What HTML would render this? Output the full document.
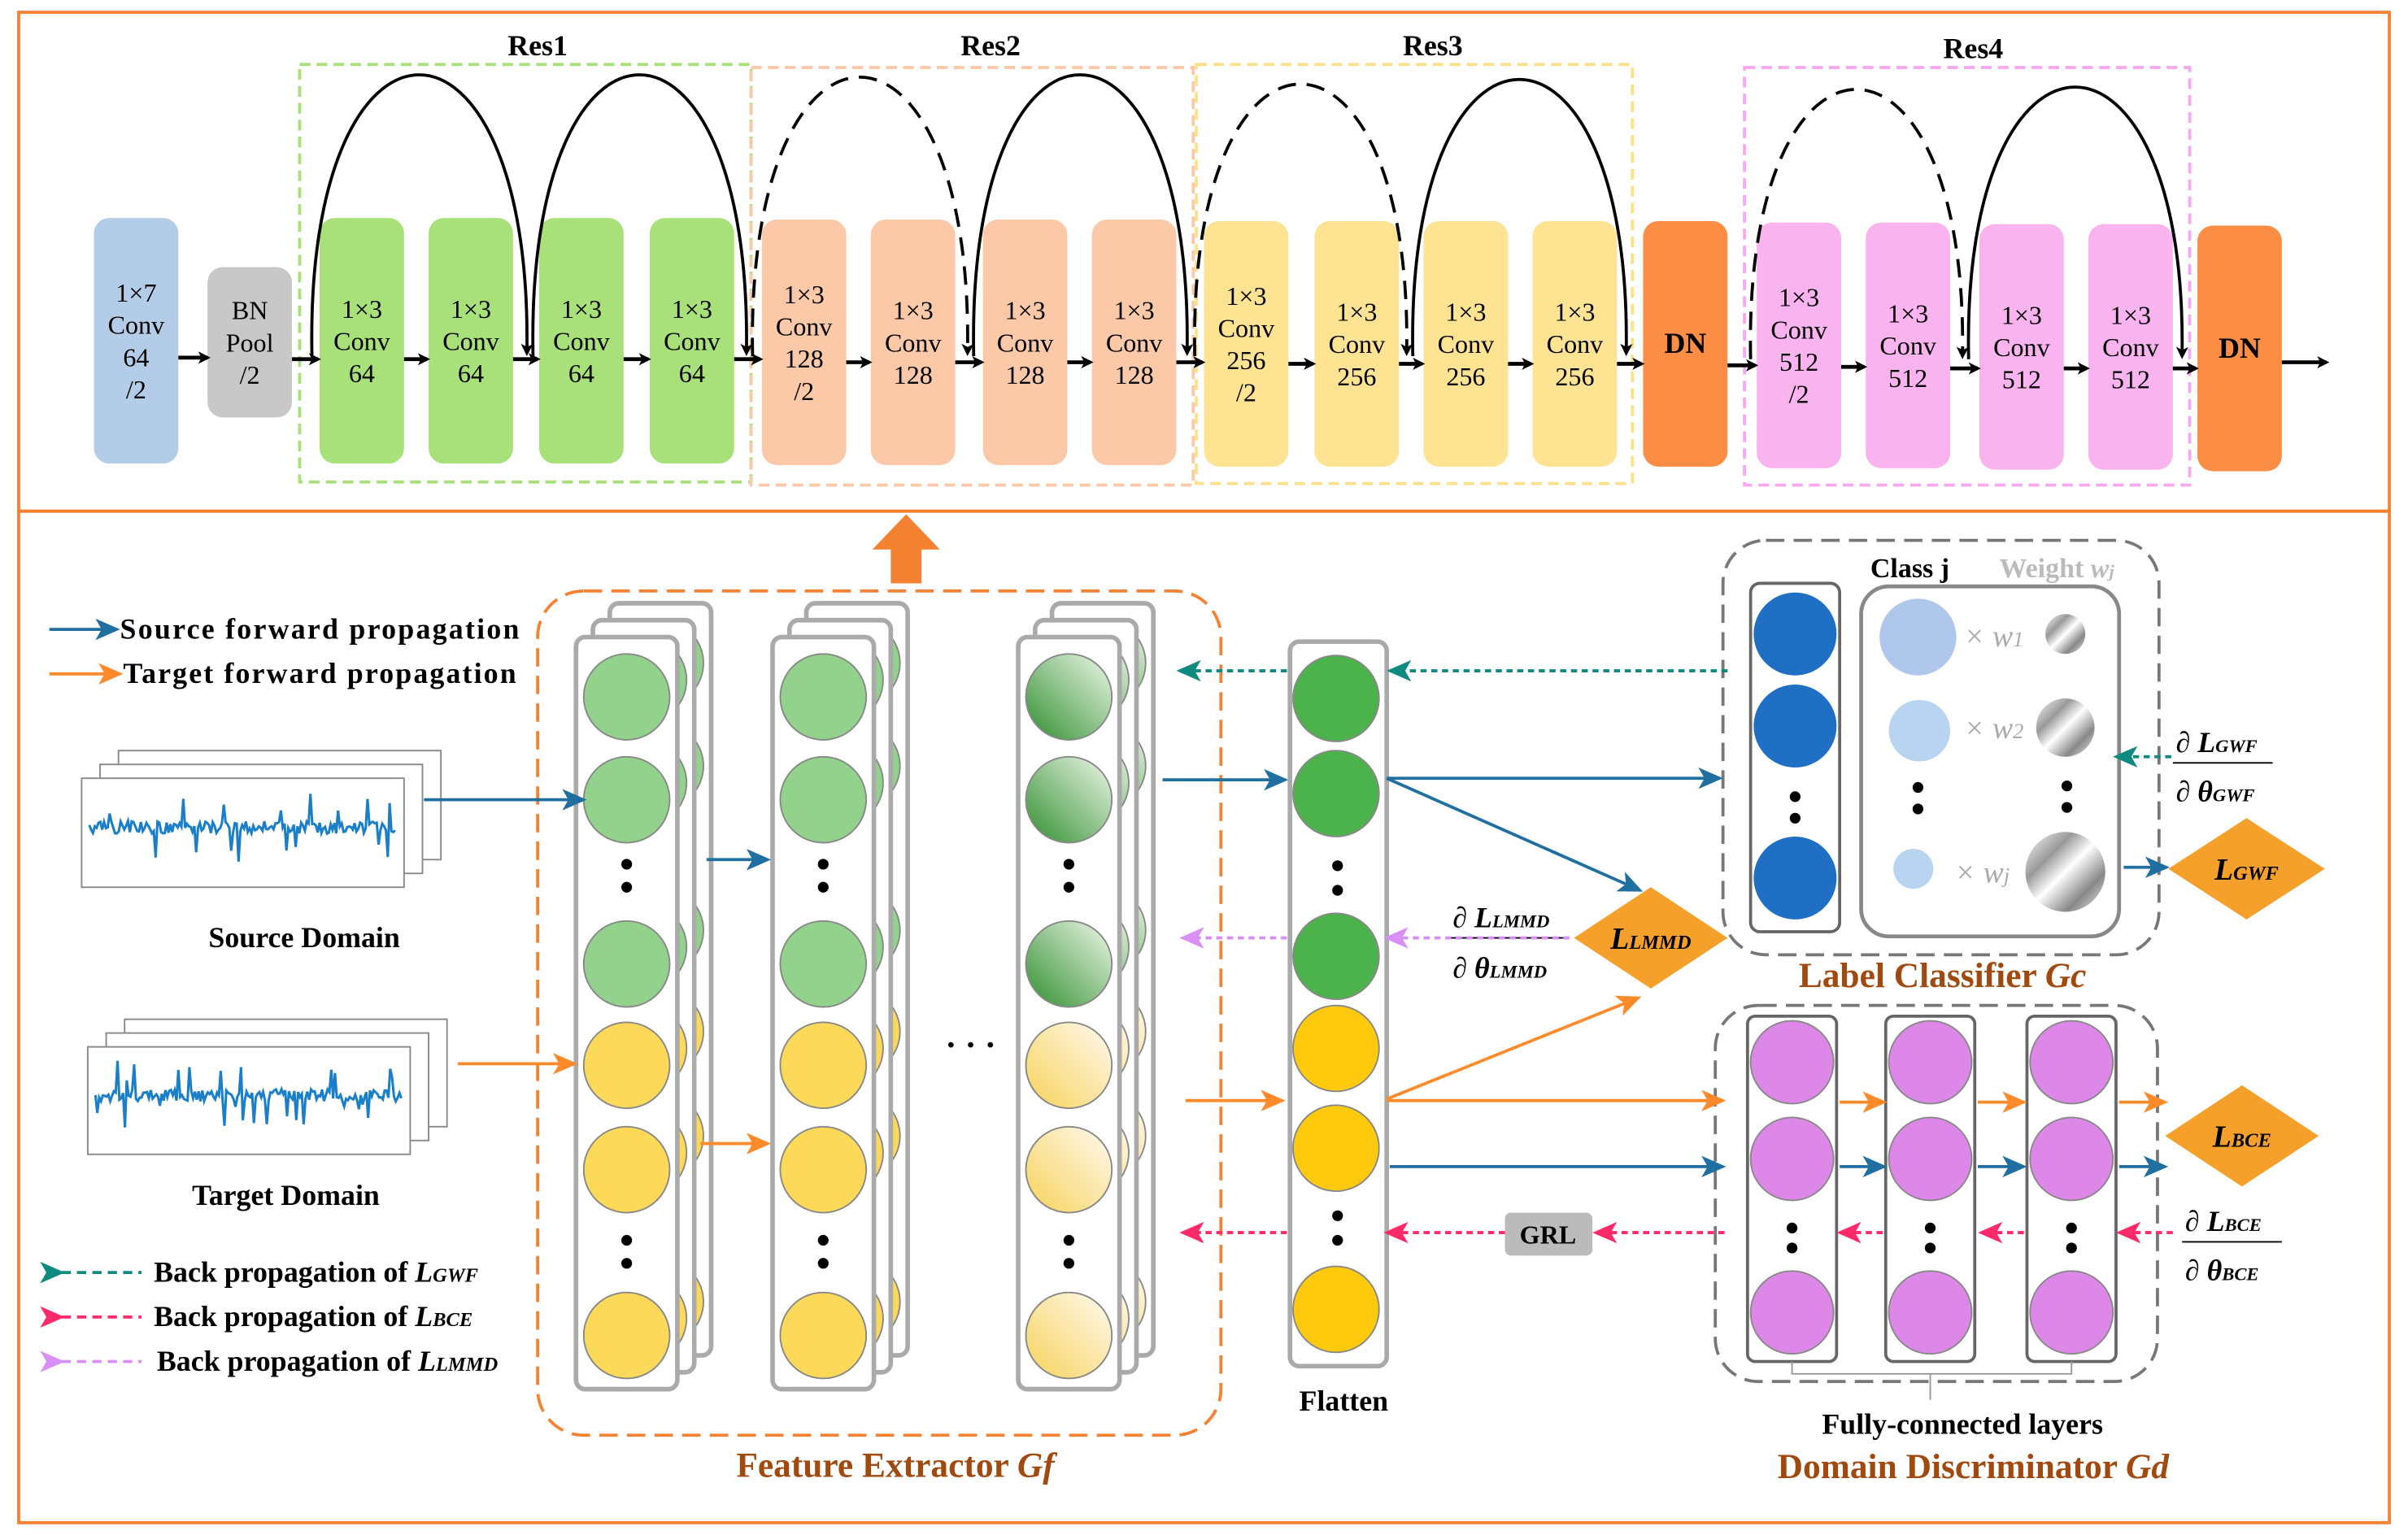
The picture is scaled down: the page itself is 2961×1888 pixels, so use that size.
<!DOCTYPE html>
<html><head><meta charset="utf-8"><style>
html,body{margin:0;padding:0;background:#fff}
svg{display:block}
text{font-family:"Liberation Serif",serif}
</style></head><body>
<svg id="s" width="2961" height="1888" viewBox="0 0 1568 1000" xmlns="http://www.w3.org/2000/svg">
<defs>
<marker id="mk" markerWidth="8" markerHeight="8" refX="6" refY="4" orient="auto" markerUnits="userSpaceOnUse"><path d="M0,0 L8,4 L0,8 L2,4z" fill="#000"/></marker>
<marker id="mb" markerWidth="16" markerHeight="14" refX="14" refY="7" orient="auto" markerUnits="userSpaceOnUse"><path d="M0,0 L16,7 L0,14 L4,7z" fill="#1f6fa0"/></marker>
<marker id="mo" markerWidth="16" markerHeight="14" refX="14" refY="7" orient="auto" markerUnits="userSpaceOnUse"><path d="M0,0 L16,7 L0,14 L4,7z" fill="#ff8a2a"/></marker>
<marker id="mt" markerWidth="16" markerHeight="14" refX="14" refY="7" orient="auto" markerUnits="userSpaceOnUse"><path d="M0,0 L16,7 L0,14 L4,7z" fill="#0e8a80"/></marker>
<marker id="ml" markerWidth="16" markerHeight="14" refX="14" refY="7" orient="auto" markerUnits="userSpaceOnUse"><path d="M0,0 L16,7 L0,14 L4,7z" fill="#d890f5"/></marker>
<marker id="mr" markerWidth="16" markerHeight="14" refX="14" refY="7" orient="auto" markerUnits="userSpaceOnUse"><path d="M0,0 L16,7 L0,14 L4,7z" fill="#ff2a6a"/></marker>
<linearGradient id="gg" x1="0" y1="1" x2="1" y2="0"><stop offset="0" stop-color="#2f8f2f"/><stop offset="1" stop-color="#f0f8ea"/></linearGradient>
<linearGradient id="gy" x1="0" y1="1" x2="1" y2="0"><stop offset="0" stop-color="#f7d25a"/><stop offset="1" stop-color="#fffaf0"/></linearGradient>
<linearGradient id="gm" x1="0" y1="0" x2="1" y2="1"><stop offset="0" stop-color="#fff"/><stop offset=".3" stop-color="#999"/><stop offset=".5" stop-color="#fff"/><stop offset=".75" stop-color="#888"/><stop offset="1" stop-color="#eee"/></linearGradient>
</defs>

<rect x="12" y="8" width="1544" height="325" fill="none" stroke="#f58233" stroke-width="2"/>
<rect x="12" y="333" width="1544" height="659" fill="none" stroke="#f58233" stroke-width="2"/>

<rect x="195" y="42" width="294" height="272" fill="none" stroke="#a8e07a" stroke-width="2" stroke-dasharray="7,4"/>
<rect x="489" y="44" width="288" height="272" fill="none" stroke="#fcc9a8" stroke-width="2" stroke-dasharray="7,4"/>
<rect x="779" y="42" width="284" height="273" fill="none" stroke="#fde08a" stroke-width="2" stroke-dasharray="7,4"/>
<rect x="1136" y="44" width="290" height="272" fill="none" stroke="#f7a8f0" stroke-width="2" stroke-dasharray="7,4"/>
<g font-size="19" font-weight="bold" text-anchor="middle">
<text x="350" y="36">Res1</text><text x="645" y="36">Res2</text><text x="933" y="36">Res3</text><text x="1285" y="38">Res4</text>
</g>

<g id="blocks" text-anchor="middle"></g>

<g fill="none" stroke="#000" stroke-width="2" marker-end="url(#mk)">
<path d="M203,232 C198,-12 347,-12 343,230"/>
<path d="M347,232 C342,-12 490,-12 486,230"/>
<path d="M490,232 C485,-10 634,-10 630,230" stroke-dasharray="12,7"/>
<path d="M634,232 C629,-12 777,-12 773,230"/>
<path d="M778,232 C773,-4 920,-4 916,230" stroke-dasharray="12,7"/>
<path d="M920,232 C915,-8 1063,-8 1059,230"/>
<path d="M1140,234 C1135,0 1282,0 1278,232" stroke-dasharray="12,7"/>
<path d="M1282,234 C1277,-2 1425,-2 1421,232"/>
</g>
<g id="harr" stroke="#000" stroke-width="2.5" marker-end="url(#mk)"></g>

<path d="M580,380 L580,358 L568,358 L590,335 L612,358 L600,358 L600,380z" fill="#f58233"/>

<g font-size="19" font-weight="bold">
<line x1="32" y1="410" x2="76" y2="410" stroke="#1f6fa0" stroke-width="2" marker-end="url(#mb)"/>
<text x="78" y="416" textLength="260">Source forward propagation</text>
<line x1="32" y1="439" x2="78" y2="439" stroke="#ff8a2a" stroke-width="2" marker-end="url(#mo)"/>
<text x="80" y="445" textLength="256">Target forward propagation</text>
<line x1="40" y1="829" x2="92" y2="829" stroke="#0e8a80" stroke-width="2" stroke-dasharray="6,4" marker-start="url(#mt)"/>
<text x="100" y="835">Back propagation of <tspan font-style="italic">L<tspan font-size="13">GWF</tspan></tspan></text>
<line x1="40" y1="858" x2="92" y2="858" stroke="#ff2a6a" stroke-width="2" stroke-dasharray="6,4" marker-start="url(#mr)"/>
<text x="100" y="864">Back propagation of <tspan font-style="italic">L<tspan font-size="13">BCE</tspan></tspan></text>
<line x1="40" y1="887" x2="92" y2="887" stroke="#d890f5" stroke-width="2" stroke-dasharray="6,4" marker-start="url(#ml)"/>
<text x="102" y="893">Back propagation of <tspan font-style="italic">L<tspan font-size="13">LMMD</tspan></tspan></text>
<text x="198" y="617" text-anchor="middle">Source Domain</text>
<text x="186" y="785" text-anchor="middle">Target Domain</text>
<text x="875" y="919" text-anchor="middle">Flatten</text>
<text x="1278" y="934" text-anchor="middle">Fully-connected layers</text>
</g>

<g id="waves"></g>

<rect x="350" y="385" width="445" height="550" rx="30" fill="none" stroke="#f58233" stroke-width="2" stroke-dasharray="12,6"/>
<text x="583" y="962" font-size="23" font-weight="bold" fill="#a04a10" text-anchor="middle">Feature Extractor <tspan font-style="italic">Gf</tspan></text>
<g id="cols"></g>
<text x="632" y="688" font-size="22" font-weight="bold" text-anchor="middle">· · ·</text>

<rect x="840" y="418" width="63" height="472" rx="6" fill="#fff" stroke="#aaa" stroke-width="3"/>
<g stroke="#888" stroke-width="1">
<circle cx="870" cy="455" r="28" fill="#4cb34c"/><circle cx="870" cy="517" r="28" fill="#4cb34c"/><circle cx="870" cy="623" r="28" fill="#4cb34c"/>
<circle cx="870" cy="683" r="28" fill="#ffc90e"/><circle cx="870" cy="748" r="28" fill="#ffc90e"/><circle cx="870" cy="853" r="28" fill="#ffc90e"/>
</g>
<g fill="#000"><circle cx="871" cy="564" r="3.5"/><circle cx="871" cy="580" r="3.5"/><circle cx="871" cy="792" r="3.5"/><circle cx="871" cy="808" r="3.5"/></g>

<rect x="1122" y="352" width="284" height="270" rx="28" fill="none" stroke="#777" stroke-width="2" stroke-dasharray="12,6"/>
<rect x="1140" y="380" width="58" height="227" rx="6" fill="#fff" stroke="#666" stroke-width="2"/>
<rect x="1212" y="382" width="168" height="228" rx="18" fill="#fff" stroke="#888" stroke-width="2.5"/>
<g fill="#1f6fc5"><circle cx="1169" cy="413" r="27"/><circle cx="1169" cy="473" r="27"/><circle cx="1169" cy="572" r="27"/></g>
<g fill="#000"><circle cx="1169" cy="519" r="3.5"/><circle cx="1169" cy="533" r="3.5"/><circle cx="1249" cy="513" r="3.5"/><circle cx="1249" cy="527" r="3.5"/><circle cx="1346" cy="512" r="3.5"/><circle cx="1346" cy="526" r="3.5"/></g>
<circle cx="1249" cy="415" r="25" fill="#aec7ea"/><circle cx="1250" cy="476" r="20" fill="#b8d4f0"/><circle cx="1246" cy="566" r="13" fill="#b8d4f0"/>
<circle cx="1345" cy="413" r="13" fill="url(#gm)"/><circle cx="1345" cy="474" r="19" fill="url(#gm)"/><circle cx="1345" cy="568" r="26" fill="url(#gm)"/>
<g font-size="20" fill="#aaa" font-style="italic"><text x="1279" y="421">× w<tspan font-size="14">1</tspan></text><text x="1279" y="481">× w<tspan font-size="14">2</tspan></text><text x="1273" y="575">× w<tspan font-size="14">j</tspan></text></g>
<text x="1218" y="376" font-size="18" font-weight="bold">Class j</text>
<text x="1302" y="376" font-size="18" font-weight="bold" fill="#bbb">Weight <tspan font-style="italic">w<tspan font-size="12">j</tspan></tspan></text>
<text x="1265" y="643" font-size="23" font-weight="bold" fill="#a04a10" text-anchor="middle">Label Classifier <tspan font-style="italic">Gc</tspan></text>

<rect x="1117" y="655" width="288" height="245" rx="28" fill="none" stroke="#777" stroke-width="2" stroke-dasharray="12,6"/>
<g fill="#fff" stroke="#666" stroke-width="2"><rect x="1138" y="662" width="58" height="225" rx="5"/><rect x="1228" y="662" width="58" height="225" rx="5"/><rect x="1320" y="662" width="58" height="225" rx="5"/></g>
<g fill="#dd88e8" stroke="#888" stroke-width="1">
<circle cx="1167" cy="692" r="27"/><circle cx="1167" cy="755" r="27"/><circle cx="1167" cy="855" r="27"/>
<circle cx="1257" cy="692" r="27"/><circle cx="1257" cy="755" r="27"/><circle cx="1257" cy="855" r="27"/>
<circle cx="1349" cy="692" r="27"/><circle cx="1349" cy="755" r="27"/><circle cx="1349" cy="855" r="27"/>
</g>
<g fill="#000"><circle cx="1167" cy="800" r="3.5"/><circle cx="1167" cy="813" r="3.5"/><circle cx="1257" cy="800" r="3.5"/><circle cx="1257" cy="813" r="3.5"/><circle cx="1349" cy="800" r="3.5"/><circle cx="1349" cy="813" r="3.5"/></g>
<path d="M1167,887 L1167,895 L1349,895 L1349,887 M1257,895 L1257,912" fill="none" stroke="#999" stroke-width="1"/>
<text x="1285" y="963" font-size="23" font-weight="bold" fill="#a04a10" text-anchor="middle">Domain Discriminator <tspan font-style="italic">Gd</tspan></text>

<g fill="#f5a02a">
<path d="M1075,578 L1125,611 L1075,644 L1025,611z"/>
<path d="M1463,533 L1514,566 L1463,599 L1412,566z"/>
<path d="M1460,707 L1510,740 L1460,773 L1410,740z"/>
</g>
<g font-size="20" font-weight="bold" font-style="italic" text-anchor="middle">
<text x="1075" y="618">L<tspan font-size="13">LMMD</tspan></text>
<text x="1463" y="573">L<tspan font-size="13">GWF</tspan></text>
<text x="1460" y="747">L<tspan font-size="13">BCE</tspan></text>
</g>
<g font-size="19" font-style="italic" font-weight="bold">
<text x="946" y="604">∂ L<tspan font-size="12">LMMD</tspan></text><line x1="944" y1="611" x2="1020" y2="611" stroke="#000"/><text x="946" y="637">∂ θ<tspan font-size="12">LMMD</tspan></text>
<text x="1417" y="490">∂ L<tspan font-size="12">GWF</tspan></text><line x1="1415" y1="497" x2="1480" y2="497" stroke="#000"/><text x="1417" y="522">∂ θ<tspan font-size="12">GWF</tspan></text>
<text x="1423" y="802">∂ L<tspan font-size="12">BCE</tspan></text><line x1="1421" y1="809" x2="1486" y2="809" stroke="#000"/><text x="1423" y="834">∂ θ<tspan font-size="12">BCE</tspan></text>
</g>
<rect x="980" y="790" width="57" height="28" rx="4" fill="#bbb"/>
<text x="1008" y="810" font-size="17" font-weight="bold" text-anchor="middle">GRL</text>

<g stroke="#1f6fa0" stroke-width="2" fill="none" marker-end="url(#mb)">
<line x1="276" y1="521" x2="380" y2="521"/><line x1="460" y1="560" x2="500" y2="560"/>
<line x1="757" y1="508" x2="837" y2="508"/><line x1="903" y1="507" x2="1120" y2="507"/>
<line x1="903" y1="507" x2="1068" y2="580"/><line x1="905" y1="760" x2="1122" y2="760"/>
<line x1="1198" y1="760" x2="1227" y2="760"/><line x1="1288" y1="760" x2="1318" y2="760"/><line x1="1380" y1="760" x2="1410" y2="760"/>
<line x1="1383" y1="565" x2="1411" y2="565"/>
</g>
<g stroke="#ff8a2a" stroke-width="2" fill="none" marker-end="url(#mo)">
<line x1="298" y1="693" x2="374" y2="693"/><line x1="456" y1="745" x2="500" y2="745"/>
<line x1="772" y1="717" x2="835" y2="717"/><line x1="903" y1="716" x2="1067" y2="650"/>
<line x1="903" y1="717" x2="1122" y2="717"/>
<line x1="1198" y1="718" x2="1227" y2="718"/><line x1="1288" y1="718" x2="1318" y2="718"/><line x1="1380" y1="718" x2="1410" y2="718"/>
</g>
<g stroke-width="2" fill="none" stroke-dasharray="4,3">
<line x1="1125" y1="437" x2="905" y2="437" stroke="#0e8a80" marker-end="url(#mt)"/>
<line x1="838" y1="437" x2="768" y2="437" stroke="#0e8a80" marker-end="url(#mt)"/>
<line x1="1414" y1="493" x2="1378" y2="493" stroke="#0e8a80" marker-end="url(#mt)"/>
<line x1="1022" y1="611" x2="903" y2="611" stroke="#d890f5" marker-end="url(#ml)"/>
<line x1="838" y1="611" x2="770" y2="611" stroke="#d890f5" marker-end="url(#ml)"/>
<line x1="1123" y1="803" x2="1039" y2="803" stroke="#ff2a6a" marker-end="url(#mr)"/>
<line x1="980" y1="803" x2="903" y2="803" stroke="#ff2a6a" marker-end="url(#mr)"/>
<line x1="838" y1="803" x2="770" y2="803" stroke="#ff2a6a" marker-end="url(#mr)"/>
<line x1="1415" y1="803" x2="1380" y2="803" stroke="#ff2a6a" marker-end="url(#mr)"/>
<line x1="1318" y1="803" x2="1290" y2="803" stroke="#ff2a6a" marker-end="url(#mr)"/>
<line x1="1226" y1="803" x2="1198" y2="803" stroke="#ff2a6a" marker-end="url(#mr)"/>
</g>
</svg>
<script>
const NS="http://www.w3.org/2000/svg";
function el(p,t,a,txt){const e=document.createElementNS(NS,t);for(const k in a)e.setAttribute(k,a[k]);if(txt!==undefined)e.textContent=txt;p.appendChild(e);return e;}
const B=document.getElementById('blocks');
const blocks=[
[61,142,302,'#b3cde8',['1×7','Conv','64','/2']],
[135,174,272,'#c8c8c8',['BN','Pool','/2']],
[208,142,302,'#a8e07a',['1×3','Conv','64']],[279,142,302,'#a8e07a',['1×3','Conv','64']],[351,142,302,'#a8e07a',['1×3','Conv','64']],[423,142,302,'#a8e07a',['1×3','Conv','64']],
[496,143,303,'#fcc9a8',['1×3','Conv','128','/2']],[567,143,303,'#fcc9a8',['1×3','Conv','128']],[640,143,303,'#fcc9a8',['1×3','Conv','128']],[711,143,303,'#fcc9a8',['1×3','Conv','128']],
[784,144,304,'#fde392',['1×3','Conv','256','/2']],[856,144,304,'#fde392',['1×3','Conv','256']],[927,144,304,'#fde392',['1×3','Conv','256']],[998,144,304,'#fde392',['1×3','Conv','256']],
[1070,144,304,'#fb8d45',['DN'],1],
[1144,145,305,'#f9b3ef',['1×3','Conv','512','/2']],[1215,145,305,'#f9b3ef',['1×3','Conv','512']],[1289,146,306,'#f9b3ef',['1×3','Conv','512']],[1360,146,306,'#f9b3ef',['1×3','Conv','512']],
[1431,147,307,'#fb8d45',['DN'],1]];
blocks.forEach(b=>{const[x,y1,y2,c,L,bold]=b;el(B,'rect',{x:x,y:y1,width:55,height:y2-y1,rx:10,fill:c});
 const cy=(y1+y2)/2, n=L.length, lh=21; L.forEach((t,i)=>{const ty=cy-(n-1)*lh/2+i*lh+6;el(B,'text',{x:x+27.5,y:ty,'font-weight':bold?'bold':'normal','font-size':bold?19:17},t);});});
const H=document.getElementById('harr');
const ha=[[116,135,233],[190,207,234],[263,278,234],[334,350,234],[406,422,234],[478,495,234],[551,566,236],[622,639,236],[695,710,236],[766,783,236],[839,855,237],[911,926,237],[982,997,237],[1053,1069,237],[1125,1143,238],[1199,1214,239],[1270,1288,240],[1344,1359,240],[1415,1430,240],[1486,1515,236]];
ha.forEach(a=>el(H,'line',{x1:a[0],y1:a[2],x2:a[1],y2:a[2]}));
const W=document.getElementById('waves');
function wave(x,y,w,h){[[24,-18],[12,-9],[0,0]].forEach(o=>el(W,'rect',{x:x+o[0],y:y+o[1],width:w,height:h,fill:'#fff',stroke:'#888','stroke-width':1}));
 let d='';let seed=x;function r(){seed=(seed*9301+49297)%233280;return seed/233280;}
 for(let i=0;i<=w-10;i+=1.2){let a=(r()-.5)*8;if(r()>.85)a=(r()-.5)*45;d+=(i?'L':'M')+(x+5+i).toFixed(1)+','+(y+h*0.45+a).toFixed(1);}
 el(W,'path',{d:d,fill:'none',stroke:'#1a7fc8','stroke-width':1.6});}
wave(53,507,210,71);wave(57,682,210,70);
const C=document.getElementById('cols');
[[375,false],[503,false],[663,true]].forEach(([x,g])=>{
 for(let k=2;k>=0;k--){const ox=x+k*11,oy=415-k*11;el(C,'rect',{x:ox,y:oy,width:66,height:490,rx:6,fill:'#fff',stroke:'#aaa','stroke-width':3});
  const cx=ox+33;[454,521,628].forEach(cy=>el(C,'circle',{cx:cx,cy:cy-k*11,r:28,fill:g?'url(#gg)':'#92d28c',stroke:'#888'}));
  [694,762,870].forEach(cy=>el(C,'circle',{cx:cx,cy:cy-k*11,r:28,fill:g?'url(#gy)':'#fdd95a',stroke:'#888'}));
  if(k==0){[563,578,808,823].forEach(cy=>el(C,'circle',{cx:cx,cy:cy,r:3.5,fill:'#000'}));}
 }});
</script>
</body></html>
